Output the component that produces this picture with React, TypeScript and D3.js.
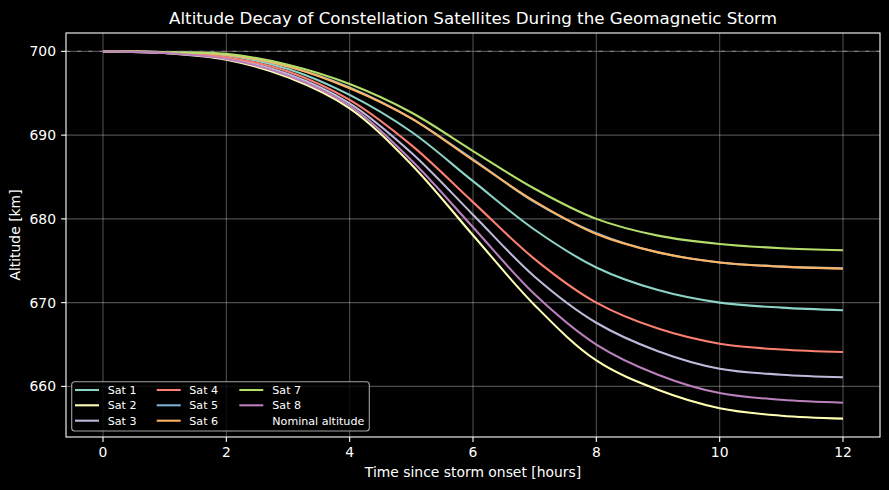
import React from "react";
import * as d3 from "d3";

const times = [0, 1, 2, 3, 4, 5, 6, 7, 8, 9, 10, 11, 12];
const seriesNames = ["Sat 1", "Sat 2", "Sat 3", "Sat 4", "Sat 5", "Sat 6", "Sat 7", "Sat 8"];
const seriesColors = ["#8dd3c7", "#ffffb3", "#bebada", "#fb8072", "#80b1d3", "#fdb462", "#b3de69", "#bc80bd"];
const sat1 = [700.0, 699.9, 699.5, 697.9, 694.8, 690.4, 684.5, 678.7, 674.2, 671.5, 670.0, 669.4, 669.1];
const sat2 = [700.0, 699.8, 699.0, 696.9, 693.2, 686.5, 678.05, 669.7, 663.1, 659.6, 657.4, 656.5, 656.15];
const sat3 = [700.0, 699.8, 699.2, 697.3, 693.8, 687.9, 680.5, 673.1, 667.6, 664.2, 662.1, 661.4, 661.1];
const sat4 = [700.0, 699.9, 699.3, 697.6, 694.2, 688.8, 682.0, 675.2, 670.0, 666.9, 665.1, 664.4, 664.1];
const sat5 = [700.0, 699.9, 699.6, 698.2, 695.7, 692.0, 687.1, 682.0, 678.3, 676.0, 674.8, 674.3, 674.1];
const sat6 = [700.0, 699.9, 699.6, 698.2, 695.6, 692.0, 687.0, 682.1, 678.2, 676.0, 674.8, 674.3, 674.05];
const sat7 = [700.0, 699.9, 699.7, 698.4, 696.1, 692.7, 688.1, 683.6, 680.0, 678.0, 677.0, 676.5, 676.25];
const sat8 = [700.0, 699.8, 699.1, 697.1, 693.5, 687.0, 679.0, 671.0, 665.0, 661.4, 659.2, 658.4, 658.05];
const seriesValues = [sat1, sat2, sat3, sat4, sat5, sat6, sat7, sat8];
const nominalAltitude = 700;
const xTicks = [0, 2, 4, 6, 8, 10, 12];
const yTicks = [660, 670, 680, 690, 700];

const W = 889, H = 490;
const L = 66, R = 880, T = 33, B = 437;
const FONT = "DejaVu Sans, sans-serif";

export default function App() {
  const allVals = seriesValues.flat().concat([nominalAltitude]);
  const vmin = d3.min(allVals)!;
  const vmax = d3.max(allVals)!;
  const ym = (vmax - vmin) * 0.05;
  const xm = (d3.max(times)! - d3.min(times)!) * 0.05;
  const x = d3.scaleLinear().domain([d3.min(times)! - xm, d3.max(times)! + xm]).range([L, R]);
  const y = d3.scaleLinear().domain([vmin - ym, vmax + ym]).range([B, T]);
  const line = d3
    .line<number>()
    .x((_, i) => x(times[i]))
    .y((d) => y(d))
    .curve(d3.curveCatmullRom.alpha(0.5));

  const legCols = [
    { hx: 75, tx: 107.7 },
    { hx: 156.7, tx: 189.3 },
    { hx: 239.3, tx: 272.3 },
  ];
  const legRows = [390, 405.3, 420.7];
  const legendItems = seriesNames
    .map((n, i) => ({ name: n, color: seriesColors[i] as string | null }))
    .concat([{ name: "Nominal altitude", color: null }]);

  return (
    <svg width={W} height={H} style={{ position: "absolute", left: 0, top: 0, background: "#000" }} fontFamily={FONT}>
      <rect x={0} y={0} width={W} height={H} fill="#000" />
      {xTicks.map((t) => (
        <line key={"gx" + t} x1={x(t)} x2={x(t)} y1={T} y2={B} stroke="#fff" strokeOpacity={0.3} strokeWidth={1.1} />
      ))}
      {yTicks.map((t) => (
        <line key={"gy" + t} x1={L} x2={R} y1={y(t)} y2={y(t)} stroke="#fff" strokeOpacity={0.3} strokeWidth={1.1} />
      ))}
      {seriesValues.map((vals, i) => (
        <path key={"s" + i} d={line(vals)!} fill="none" stroke={seriesColors[i]} strokeWidth={2.08} />
      ))}
      <line x1={L} x2={R} y1={y(nominalAltitude)} y2={y(nominalAltitude)} stroke="#999" strokeOpacity={0.7} strokeWidth={1.1} strokeDasharray="4.2 6.9" />
      <rect x={L} y={T} width={R - L} height={B - T} fill="none" stroke="#fff" strokeWidth={1.1} />
      {xTicks.map((t) => (
        <g key={"xt" + t}>
          <line x1={x(t)} x2={x(t)} y1={B} y2={B + 4.9} stroke="#fff" strokeWidth={1.1} />
          <text x={x(t)} y={457} fill="#fff" fontSize={13.9} textAnchor="middle">
            {t}
          </text>
        </g>
      ))}
      {yTicks.map((t) => (
        <g key={"yt" + t}>
          <line x1={L - 4.9} x2={L} y1={y(t)} y2={y(t)} stroke="#fff" strokeWidth={1.1} />
          <text x={56} y={y(t) + 5} fill="#fff" fontSize={13.9} textAnchor="end">
            {t}
          </text>
        </g>
      ))}
      <text x={(L + R) / 2} y={476.5} fill="#fff" fontSize={13.9} textAnchor="middle">
        Time since storm onset [hours]
      </text>
      <text transform={`translate(20,${(T + B) / 2}) rotate(-90)`} fill="#fff" fontSize={13.9} textAnchor="middle">
        Altitude [km]
      </text>
      <text x={(L + R) / 2} y={24} fill="#fff" fontSize={16.7} textAnchor="middle">
        Altitude Decay of Constellation Satellites During the Geomagnetic Storm
      </text>
      <rect x={71.7} y={381.7} width={369.3 - 71.7} height={431 - 381.7} rx={3} fill="#000" fillOpacity={0.8} stroke="#a3a3a3" strokeWidth={1.1} />
      {legendItems.map((it, i) => {
        const c = legCols[Math.floor(i / 3)];
        const ry = legRows[i % 3];
        return (
          <g key={"lg" + i}>
            {it.color && <line x1={c.hx} x2={c.hx + 24} y1={ry} y2={ry} stroke={it.color} strokeWidth={2.08} />}
            <text x={c.tx} y={ry + 4} fill="#fff" fontSize={11.1}>
              {it.name}
            </text>
          </g>
        );
      })}
    </svg>
  );
}
